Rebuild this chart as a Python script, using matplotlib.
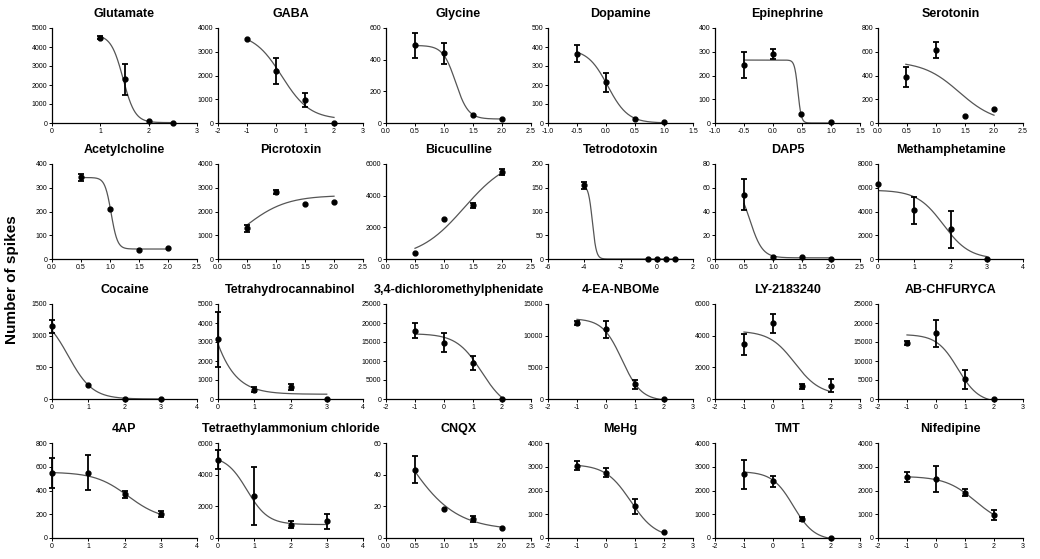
import numpy as np
import matplotlib
matplotlib.use("Agg")
import matplotlib.pyplot as plt

plt.rcParams['font.family'] = ['Liberation Sans', 'DejaVu Sans']

# --- panel data (log concentration vs number of spikes) ---
names = ["Glutamate", "GABA", "Glycine", "Dopamine", "Epinephrine", "Serotonin",
         "Acetylcholine", "Picrotoxin", "Bicuculline", "Tetrodotoxin", "DAP5", "Methamphetamine",
         "Cocaine", "Tetrahydrocannabinol", "3,4-dichloromethylphenidate", "4-EA-NBOMe", "LY-2183240", "AB-CHFURYCA",
         "4AP", "Tetraethylammonium chloride", "CNQX", "MeHg", "TMT", "Nifedipine"]

xs = [[1, 1.5, 2, 2.5], [-1, 0, 1, 2], [0.5, 1, 1.5, 2], [-0.5, 0, 0.5, 1], [-0.5, 0, 0.48, 1], [0.48, 1, 1.5, 2],
      [0.5, 1, 1.5, 2], [0.5, 1, 1.5, 2], [0.5, 1, 1.5, 2], [-4, -0.5, 0, 0.5, 1], [0.5, 1, 1.5, 2], [0, 1, 2, 3],
      [0, 1, 2, 3], [0, 1, 2, 3], [-1, 0, 1, 2], [-1, 0, 1, 2], [-1, 0, 1, 2], [-1, 0, 1, 2],
      [0, 1, 2, 3], [0, 1, 2, 3], [0.5, 1, 1.5, 2], [-1, 0, 1, 2], [-1, 0, 1, 2], [-1, 0, 1, 2]]

ys = [[4500, 2300, 80, 20], [3550, 2200, 980, 20], [490, 440, 50, 25], [365, 215, 20, 5], [245, 290, 40, 5], [390, 615, 60, 115],
      [345, 212, 40, 45], [1300, 2820, 2300, 2420], [400, 2500, 3400, 5500], [155, 0, 0, 0, 0], [54, 2, 2, 0], [6300, 4100, 2500, 0],
      [1150, 220, 5, 0], [3150, 500, 620, 0], [18000, 14800, 9500, 0], [12000, 11000, 2300, 0], [3450, 4800, 800, 850], [14800, 17300, 5200, 0],
      [545, 550, 370, 205], [4950, 2650, 850, 1050], [43, 18.5, 12, 6.5], [3050, 2750, 1330, 250], [2680, 2380, 800, 0], [2580, 2480, 1900, 980]]

errs = [[100, 800, 0, 0], [0, 550, 300, 0], [80, 65, 0, 0], [45, 50, 0, 0], [55, 20, 0, 0], [85, 70, 0, 0],
        [15, 0, 0, 0], [150, 100, 0, 0], [0, 0, 150, 200], [8, 0, 0, 0, 0], [13, 0, 0, 0], [0, 1150, 1550, 0],
        [100, 0, 0, 0], [1450, 150, 150, 0], [2000, 2500, 1800, 0], [300, 1300, 700, 0], [650, 600, 150, 400], [500, 3500, 2500, 0],
        [125, 145, 30, 25], [600, 1850, 200, 450], [8.5, 0, 2, 0], [200, 200, 300, 0], [600, 230, 80, 0], [220, 550, 150, 220]]

# axis ranges: (xmin, xmax, xstep), (ymax, ystep)
xranges = [(0, 3, 1), (-2, 3, 1), (0, 2.5, 0.5), (-1, 1.5, 0.5), (-1, 1.5, 0.5), (0, 2.5, 0.5),
           (0, 2.5, 0.5), (0, 2.5, 0.5), (0, 2.5, 0.5), (-6, 2, 2), (0, 2.5, 0.5), (0, 4, 1),
           (0, 4, 1), (0, 4, 1), (-2, 3, 1), (-2, 3, 1), (-2, 3, 1), (-2, 3, 1),
           (0, 4, 1), (0, 4, 1), (0, 2.5, 0.5), (-2, 3, 1), (-2, 3, 1), (-2, 3, 1)]
yranges = [(5000, 1000), (4000, 1000), (600, 200), (500, 100), (400, 100), (800, 200),
           (400, 100), (4000, 1000), (6000, 2000), (200, 50), (80, 20), (8000, 2000),
           (1500, 500), (5000, 1000), (25000, 5000), (15000, 5000), (6000, 2000), (25000, 5000),
           (800, 200), (6000, 2000), (60, 20), (4000, 1000), (4000, 1000), (4000, 1000)]

# fitted dose-response curves: top, bottom, logEC50, slope (positive = falling)
fit_top = [4650, 3800, 490, 390, 265, 520, 343, 2680, 6500, 155, 65, 5800,
           1360, 16680, 17200, 12700, 4300, 17000, 555, 5200, 100.6, 3100, 2800, 2600]
fit_bottom = [20, 150, 25, 0, 0, 0, 42, 0, 0, 0, 1, 0,
              0, 250, -3000, -300, 250, -1000, 150, 850, 5, 0, -100, 500]
fit_ec50 = [1.47, 0.2, 1.2, 0.03, 0.43, 1.4, 1.02, 0.45, 1.35, -3.55, 0.6, 1.8,
            0.45, -0.716, 1.3, 0.55, 0.75, 0.75, 2.1, 0.8, 0.3, 0.85, 0.7, 1.362]
fit_slope = [3.5, 0.9, 4.0, 2.5, 15, 1.4, 8, -1.2, -1.1, 4, 4, 1.2,
             1.3, 1.0, 1.0, 1.3, 1.0, 1.2, 0.948, 1.5, 1.0, 1.0, 1.2, 0.83]

fig = plt.figure(figsize=(10.4, 5.59), dpi=100)
W, H = 1040.0, 559.0
col_left = [52, 218, 386, 548, 715, 878]
row_top = [28, 164, 304, 443]
ax_w, ax_h = 145, 95

for i, name in enumerate(names):
    r, c = divmod(i, 6)
    ax = fig.add_axes([col_left[c] / W, 1 - (row_top[r] + ax_h) / H, ax_w / W, ax_h / H])
    x = np.array(xs[i], dtype=float)
    y = np.array(ys[i], dtype=float)
    e = np.array(errs[i], dtype=float)

    # fitted curve over the tested range
    xx = np.linspace(x.min(), x.max(), 300)
    yy = fit_bottom[i] + (fit_top[i] - fit_bottom[i]) / (1 + 10 ** (fit_slope[i] * (xx - fit_ec50[i])))
    ax.plot(xx, yy, color='#555555', lw=0.9, zorder=2)

    ax.plot(x, y, 'o', color='black', ms=3.5, zorder=3, clip_on=False)
    m = e > 0
    if m.any():
        ax.errorbar(x[m], y[m], yerr=e[m], fmt='none', ecolor='black', elinewidth=1.3,
                    capsize=2.4, capthick=1.3, zorder=3, clip_on=False)

    x0, x1, xst = xranges[i]
    ymax, yst = yranges[i]
    ax.set_xlim(x0, x1)
    ax.set_ylim(0, ymax)
    xt = np.arange(x0, x1 + xst / 2, xst)
    ax.set_xticks(xt)
    if xst < 1:
        ax.set_xticklabels([f"{v:.1f}" for v in xt])
    else:
        ax.set_xticklabels([f"{int(round(v))}" for v in xt])
    yt = np.arange(0, ymax + yst / 2, yst)
    ax.set_yticks(yt)
    ax.set_yticklabels([f"{int(round(v))}" for v in yt])

    for s in ['top', 'right']:
        ax.spines[s].set_visible(False)
    for s in ['left', 'bottom']:
        ax.spines[s].set_linewidth(0.9)
    ax.tick_params(labelsize=5, length=2, width=0.7, pad=1.5)
    ax.set_title(name, fontsize=9, fontweight='bold', pad=8)

fig.text(0.012, 0.5, "Number of spikes", rotation=90, fontsize=11, fontweight='bold',
         ha='center', va='center')

fig.savefig("out.png", dpi=100)
